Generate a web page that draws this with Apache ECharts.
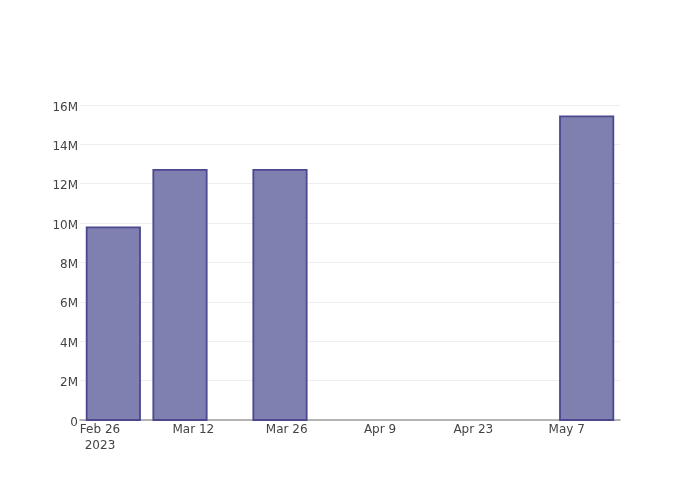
<!DOCTYPE html>
<html>
<head>
<meta charset="utf-8">
<script src="https://cdn.jsdelivr.net/npm/echarts@6/dist/echarts.min.js"></script>
<style>
  html, body { margin: 0; padding: 0; background: #fff; }
  #chart { width: 700px; height: 500px; }
</style>
</head>
<body>
<div id="chart"></div>
<script>
// values
const barDates = ["2023-02-28", "2023-03-10", "2023-03-25", "2023-05-10"];
const barValues = [9.78e6, 12.7e6, 12.7e6, 15.42e6];
const tickDates = ["2023-02-26", "2023-03-12", "2023-03-26", "2023-04-09", "2023-04-23", "2023-05-07"];
const tickLabels = ["Feb 26\n2023", "Mar 12", "Mar 26", "Apr 9", "Apr 23", "May 7"];
const barSpanDays = 8;

// x is measured in days from the first tick date, so the axis can be a plain value axis
const DAY = 86400000;
const origin = Date.parse(tickDates[0] + "T00:00:00Z");
const toDay = (s) => Math.round((Date.parse(s + "T00:00:00Z") - origin) / DAY);
const tickDays = tickDates.map(toDay);

const chart = echarts.init(document.getElementById("chart"));

chart.setOption({
  animation: false,
  textStyle: { fontFamily: "DejaVu Sans" },
  grid: { left: 80, right: 80, top: 100, bottom: 80, containLabel: false },
  xAxis: {
    type: "value",
    min: toDay("2023-02-23"),
    max: toDay("2023-05-15"),
    axisLine: { show: true, onZero: false, lineStyle: { color: "#9e9e9e", width: 1.5 } },
    axisTick: { show: false },
    splitLine: { show: false },
    axisLabel: {
      customValues: tickDays,
      color: "#444",
      fontSize: 12,
      lineHeight: 16,
      margin: 2,
      formatter: (value) => {
        const i = tickDays.indexOf(value);
        return i >= 0 ? tickLabels[i] : "";
      },
    },
  },
  yAxis: {
    type: "value",
    min: 0,
    max: 16.25e6,
    interval: 2e6,
    axisLine: { show: false },
    axisTick: { show: false },
    splitLine: { show: true, showMaxLine: false, lineStyle: { color: "#eeeeee", width: 1 } },
    axisLabel: {
      showMaxLabel: false,
      color: "#444",
      fontSize: 12,
      margin: 2,
      // nudge the labels down a little to sit on the gridlines like the reference
      formatter: (value) => "{v|" + (value === 0 ? "0" : value / 1e6 + "M") + "}",
      rich: { v: { color: "#444", fontSize: 12, padding: [5, 0, 0, 0] } },
    },
  },
  series: [
    {
      type: "custom",
      data: barDates.map((d, i) => [toDay(d), barValues[i]]),
      encode: { x: 0, y: 1 },
      renderItem: (params, api) => {
        const top = api.coord([api.value(0), api.value(1)]);
        const base = api.coord([api.value(0), 0]);
        const width = api.size([barSpanDays, 0])[0];
        return {
          type: "rect",
          shape: { x: top[0] - width / 2, y: top[1], width: width, height: base[1] - top[1] },
          style: { fill: "#7f7fb0", stroke: "#4b4890", lineWidth: 1.8 },
        };
      },
    },
  ],
});
</script>
</body>
</html>
